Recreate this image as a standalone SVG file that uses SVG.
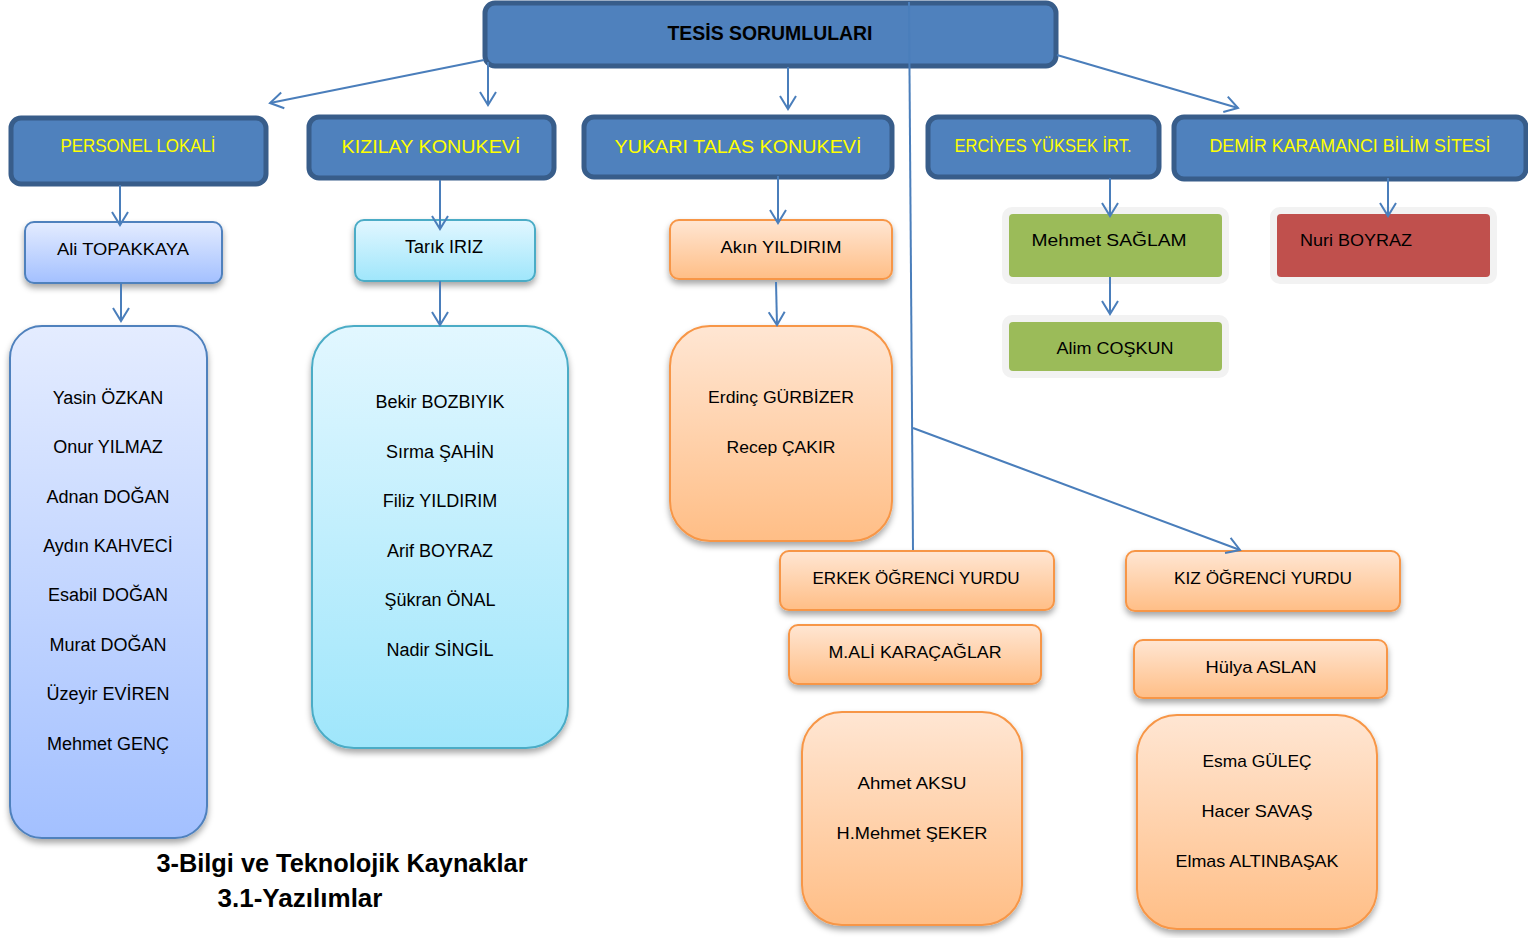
<svg xmlns="http://www.w3.org/2000/svg" width="1528" height="938" viewBox="0 0 1528 938">
<defs>
<style>
text{font-family:"Liberation Sans","Noto Sans",Arial,sans-serif;text-anchor:middle;dominant-baseline:central}
.hd{fill:#4F81BD;stroke:#385D8A;stroke-width:5}
.hdt{fill:#FFFF00;font-size:18px}
.t{fill:#000;font-size:17px}
.l{fill:#000;font-size:18px}
.con{fill:none;stroke:#4A7EBB;stroke-width:2}
.blue{fill:url(#gBlue);stroke:#4F81BD;stroke-width:2}
.cyan{fill:url(#gCyan);stroke:#4BACC6;stroke-width:2}
.org{fill:url(#gOrg);stroke:#F79646;stroke-width:2}
.frame{fill:#F2F2F2}
.sh{filter:url(#shadow)}
</style>
<linearGradient id="gBlue" x1="0" y1="0" x2="0" y2="1"><stop offset="0" stop-color="#E4ECFF"/><stop offset="1" stop-color="#A3C0FF"/></linearGradient>
<linearGradient id="gCyan" x1="0" y1="0" x2="0" y2="1"><stop offset="0" stop-color="#E2F7FF"/><stop offset="1" stop-color="#9FE6FB"/></linearGradient>
<linearGradient id="gOrg" x1="0" y1="0" x2="0" y2="1"><stop offset="0" stop-color="#FFE6D3"/><stop offset="1" stop-color="#FFBE86"/></linearGradient>
<filter id="shadow" x="-10%" y="-10%" width="120%" height="130%"><feDropShadow dx="0" dy="4" stdDeviation="3" flood-color="#000" flood-opacity="0.35"/></filter>
<marker id="arr" markerUnits="userSpaceOnUse" markerWidth="16" markerHeight="20" refX="14" refY="10" orient="auto" viewBox="0 0 16 20"><path d="M1,2 L14,10 L1,18" fill="none" stroke="#4A7EBB" stroke-width="2"/></marker>
</defs>
<rect width="1528" height="938" fill="#fff"/>

<g id="n-tesis"><rect class="hd" x="485" y="3" width="571" height="63" rx="10"/><text x="770" y="33" style="font-size:20px;font-weight:bold" textLength="205" lengthAdjust="spacingAndGlyphs">TESİS SORUMLULARI</text></g>

<g id="n-personel"><rect class="hd" x="11" y="118" width="255" height="66" rx="10"/><text class="hdt" x="138" y="146" textLength="155" lengthAdjust="spacingAndGlyphs">PERSONEL LOKALİ</text></g>
<g id="n-kizilay"><rect class="hd" x="309" y="117" width="245" height="61" rx="10"/><text class="hdt" x="431" y="147" textLength="179" lengthAdjust="spacingAndGlyphs">KIZILAY KONUKEVİ</text></g>
<g id="n-yukari"><rect class="hd" x="584" y="117" width="308" height="60" rx="10"/><text class="hdt" x="738" y="147" textLength="247" lengthAdjust="spacingAndGlyphs">YUKARI TALAS KONUKEVİ</text></g>
<g id="n-erciyes"><rect class="hd" x="928" y="117" width="231" height="60" rx="10"/><text class="hdt" x="1043" y="146" textLength="177" lengthAdjust="spacingAndGlyphs">ERCİYES YÜKSEK İRT.</text></g>
<g id="n-demir"><rect class="hd" x="1174" y="117" width="352" height="62" rx="10"/><text class="hdt" x="1350" y="146" textLength="281" lengthAdjust="spacingAndGlyphs">DEMİR KARAMANCI BİLİM SİTESİ</text></g>

<g id="n-ali"><rect class="blue sh" x="25" y="222" width="197" height="61" rx="9"/><text class="t" x="123" y="249" textLength="132" lengthAdjust="spacingAndGlyphs">Ali TOPAKKAYA</text></g>
<g id="n-personel-list"><rect class="blue sh" x="10" y="326" width="197" height="512" rx="32"/>
<text class="l" x="108" y="398">Yasin ÖZKAN</text>
<text class="l" x="108" y="447">Onur YILMAZ</text>
<text class="l" x="108" y="497">Adnan DOĞAN</text>
<text class="l" x="108" y="546">Aydın KAHVECİ</text>
<text class="l" x="108" y="595">Esabil DOĞAN</text>
<text class="l" x="108" y="645">Murat DOĞAN</text>
<text class="l" x="108" y="694">Üzeyir EVİREN</text>
<text class="l" x="108" y="744">Mehmet GENÇ</text>
</g>

<g id="n-tarik"><rect class="cyan sh" x="355" y="220" width="180" height="61" rx="9"/><text class="l" x="444" y="247">Tarık IRIZ</text></g>
<g id="n-kizilay-list"><rect class="cyan sh" x="312" y="326" width="256" height="422" rx="42"/>
<text class="l" x="440" y="402">Bekir BOZBIYIK</text>
<text class="l" x="440" y="452">Sırma ŞAHİN</text>
<text class="l" x="440" y="501">Filiz YILDIRIM</text>
<text class="l" x="440" y="551">Arif BOYRAZ</text>
<text class="l" x="440" y="600">Şükran ÖNAL</text>
<text class="l" x="440" y="650">Nadir SİNGİL</text>
</g>

<g id="n-akin"><rect class="org sh" x="670" y="220" width="222" height="59" rx="9"/><text class="t" x="781" y="247" textLength="121" lengthAdjust="spacingAndGlyphs">Akın YILDIRIM</text></g>
<g id="n-yukari-list"><rect class="org sh" x="670" y="326" width="222" height="215" rx="40"/>
<text class="t" x="781" y="397" textLength="146" lengthAdjust="spacingAndGlyphs">Erdinç GÜRBİZER</text>
<text class="t" x="781" y="447" textLength="109" lengthAdjust="spacingAndGlyphs">Recep ÇAKIR</text>
</g>

<g id="n-mehmet"><rect class="frame" x="1002" y="207" width="227" height="77" rx="10"/><rect x="1009" y="214" width="213" height="63" rx="4" fill="#9BBB59"/><text class="t" x="1109" y="240" textLength="155" lengthAdjust="spacingAndGlyphs">Mehmet SAĞLAM</text></g>
<g id="n-alim"><rect class="frame" x="1002" y="315" width="227" height="63" rx="10"/><rect x="1009" y="322" width="213" height="49" rx="4" fill="#9BBB59"/><text class="t" x="1115" y="348" textLength="117" lengthAdjust="spacingAndGlyphs">Alim COŞKUN</text></g>
<g id="n-nuri"><rect class="frame" x="1270" y="207" width="227" height="77" rx="10"/><rect x="1277" y="214" width="213" height="63" rx="4" fill="#C0504D"/><text class="t" x="1356" y="240" textLength="112" lengthAdjust="spacingAndGlyphs">Nuri BOYRAZ</text></g>

<g id="n-erkek"><rect class="org sh" x="780" y="551" width="274" height="59" rx="9"/><text class="t" x="916" y="578" textLength="207" lengthAdjust="spacingAndGlyphs">ERKEK ÖĞRENCİ YURDU</text></g>
<g id="n-kiz"><rect class="org sh" x="1126" y="551" width="274" height="60" rx="9"/><text class="t" x="1263" y="578" textLength="178" lengthAdjust="spacingAndGlyphs">KIZ ÖĞRENCİ YURDU</text></g>
<g id="n-mali"><rect class="org sh" x="789" y="625" width="252" height="59" rx="9"/><text class="t" x="915" y="652" textLength="173" lengthAdjust="spacingAndGlyphs">M.ALİ KARAÇAĞLAR</text></g>
<g id="n-hulya"><rect class="org sh" x="1134" y="640" width="253" height="58" rx="9"/><text class="t" x="1261" y="667" textLength="111" lengthAdjust="spacingAndGlyphs">Hülya ASLAN</text></g>
<g id="n-erkek-list"><rect class="org sh" x="802" y="712" width="220" height="213" rx="40"/>
<text class="t" x="912" y="783" textLength="109" lengthAdjust="spacingAndGlyphs">Ahmet AKSU</text>
<text class="t" x="912" y="833" textLength="151" lengthAdjust="spacingAndGlyphs">H.Mehmet ŞEKER</text>
</g>
<g id="n-kiz-list"><rect class="org sh" x="1137" y="715" width="240" height="214" rx="40"/>
<text class="t" x="1257" y="761" textLength="109" lengthAdjust="spacingAndGlyphs">Esma GÜLEÇ</text>
<text class="t" x="1257" y="811" textLength="111" lengthAdjust="spacingAndGlyphs">Hacer SAVAŞ</text>
<text class="t" x="1257" y="861" textLength="163" lengthAdjust="spacingAndGlyphs">Elmas ALTINBAŞAK</text>
</g>

<g id="caption">
<text x="342" y="863" style="font-size:25px;font-weight:bold" textLength="371" lengthAdjust="spacingAndGlyphs">3-Bilgi ve Teknolojik Kaynaklar</text>
<text x="300" y="898" style="font-size:25px;font-weight:bold" textLength="165" lengthAdjust="spacingAndGlyphs">3.1-Yazılımlar</text>
</g>

<g id="connectors">
<line class="con" x1="484" y1="60" x2="270" y2="103" marker-end="url(#arr)"/>
<line class="con" x1="488" y1="62" x2="488" y2="105" marker-end="url(#arr)"/>
<line class="con" x1="788" y1="67" x2="788" y2="109" marker-end="url(#arr)"/>
<line class="con" x1="1057" y1="55" x2="1238" y2="108" marker-end="url(#arr)"/>
<line class="con" x1="120" y1="185" x2="120" y2="225" marker-end="url(#arr)"/>
<line class="con" x1="121" y1="283" x2="121" y2="321" marker-end="url(#arr)"/>
<line class="con" x1="440" y1="180" x2="440" y2="229" marker-end="url(#arr)"/>
<line class="con" x1="440" y1="281" x2="440" y2="325" marker-end="url(#arr)"/>
<line class="con" x1="778" y1="176" x2="778" y2="223" marker-end="url(#arr)"/>
<line class="con" x1="776" y1="282" x2="777" y2="325" marker-end="url(#arr)"/>
<line class="con" x1="1110" y1="178" x2="1110" y2="216" marker-end="url(#arr)"/>
<line class="con" x1="1110" y1="277" x2="1110" y2="314" marker-end="url(#arr)"/>
<line class="con" x1="1388" y1="178" x2="1388" y2="216" marker-end="url(#arr)"/>
<line class="con" x1="909" y1="2" x2="913" y2="550"/>
<line class="con" x1="913" y1="428" x2="1240" y2="550" marker-end="url(#arr)"/>
</g>
</svg>
